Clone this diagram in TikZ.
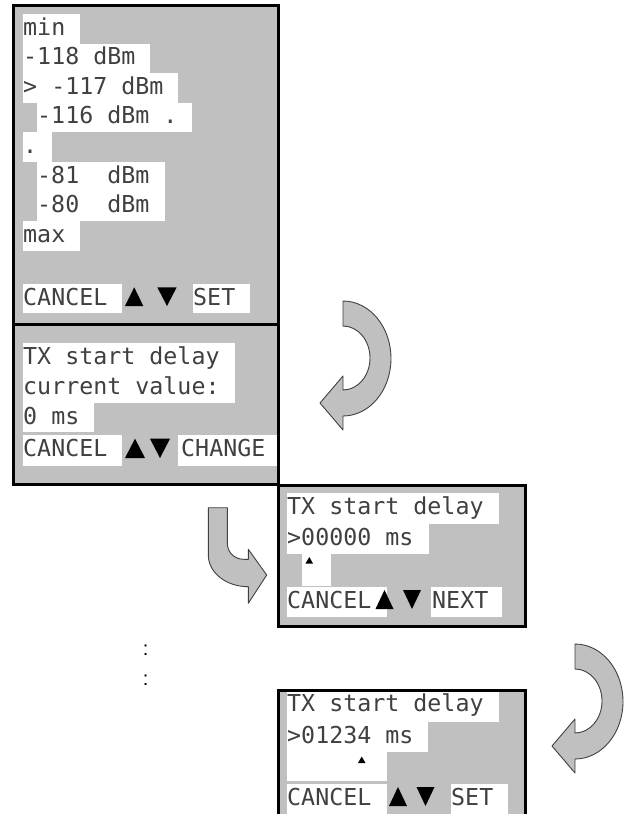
\documentclass[tikz,border=0pt]{standalone}
\usepackage{fontspec}
\newfontfamily\lcd{DejaVu Sans Mono}
\newfontfamily\sansf{Liberation Sans}
\definecolor{panelgrey}{HTML}{C0C0C0}
\tikzset{
  panelbg/.style={fill=panelgrey},
  panelframe/.style={draw=black, line width=3pt},
  hl/.style={fill=white},
  lcdtext/.style={font=\lcd\fontsize{23.3pt}{28pt}\selectfont, anchor=base west, inner sep=0pt, text=black!75},
  tri/.style={fill=black},
  bigarrow/.style={fill=panelgrey, draw=black!75, line width=0.9pt, line join=round},
  dotstext/.style={font=\sansf\fontsize{20pt}{20pt}\selectfont, anchor=base, inner sep=0pt},
  curvarrow/.pic={
    \path[bigarrow] (0,0) .. controls (26.5,0) and (48,25.7) .. (48,57.5)
      .. controls (48,89.3) and (26.5,115) .. (0,115) -- (0,129) -- (-23,102) -- (0,75) -- (0,89)
      .. controls (14.9,89) and (27,74.7) .. (27,57)
      .. controls (27,39.3) and (14.9,25) .. (0,25) -- cycle;
  }
}
\begin{document}
\begin{tikzpicture}[x=1pt,y=-1pt]
\useasboundingbox (0,0) rectangle (630,814);
\clip (0,0) rectangle (630,814);

% ---------- panel 1 ----------
\fill[panelbg] (13,5.3) rectangle (278.5,324);
\fill[hl] (23,14) rectangle (80,43.6);
\fill[hl] (23,43.6) rectangle (150,73.2);
\fill[hl] (23,73.2) rectangle (178,102.8);
\fill[hl] (37,102.8) rectangle (192,132.4);
\fill[hl] (23,132.4) rectangle (52,162);
\fill[hl] (37,162) rectangle (165,191.6);
\fill[hl] (37,191.6) rectangle (165,221.2);
\fill[hl] (23,221.2) rectangle (80,250.8);
\fill[hl] (23,284) rectangle (122,313.3);
\fill[hl] (192.7,284) rectangle (250,313.3);
\node[lcdtext] (p1a) at (23,35) {min};
\node[lcdtext] (p1b) at (23,64.6) {-118 dBm};
\node[lcdtext] (p1c) at (23,94.2) {> -117 dBm};
\node[lcdtext] (p1d) at (37,123.8) {-116 dBm .};
\node[lcdtext] (p1e) at (23,153.4) {.};
\node[lcdtext] (p1f) at (37,183) {-81~~dBm};
\node[lcdtext] (p1g) at (37,212.6) {-80~~dBm};
\node[lcdtext] (p1h) at (23,242.2) {max};
\node[lcdtext] (p1i) at (23,305) {CANCEL};
\node[lcdtext] (p1j) at (193,305) {SET};
\fill[tri] (125,306) -- (143.3,306) -- (134.2,287.3) -- cycle;
\fill[tri] (157.3,287.3) -- (176.7,287.3) -- (167,306) -- cycle;

% ---------- panel 2 ----------
\fill[panelbg] (13,324) rectangle (278.5,484);
\fill[hl] (23,343) rectangle (235,373);
\fill[hl] (23,373) rectangle (235,403);
\fill[hl] (23,403) rectangle (94.3,431.7);
\fill[hl] (23,435) rectangle (122.3,465.7);
\fill[hl] (178.3,435) rectangle (278.5,465.7);
\node[lcdtext] (p2a) at (23,364) {TX start delay};
\node[lcdtext] (p2b) at (23,394) {current value:};
\node[lcdtext] (p2c) at (23,424) {0 ms};
\node[lcdtext] (p2d) at (23,456) {CANCEL};
\node[lcdtext] (p2e) at (181,456) {CHANGE};
\fill[tri] (125,458) -- (145,458) -- (135,438.7) -- cycle;
\fill[tri] (150,438.7) -- (170,438.7) -- (160,458) -- cycle;

% ---------- panel 3 ----------
\fill[panelbg] (278.5,485) rectangle (525.5,626.7);
\fill[hl] (287,493.3) rectangle (499,524);
\fill[hl] (287,524) rectangle (428.5,554.4);
\fill[hl] (302,554.4) rectangle (331,585.5);
\fill[hl] (287,587.3) rectangle (386.7,616.5);
\fill[hl] (431,587.3) rectangle (501.7,616.5);
\node[lcdtext] (p3a) at (287,514.3) {TX start delay};
\node[lcdtext] (p3b) at (287,545) {>00000 ms};
\node[lcdtext] (p3c) at (287,608.3) {CANCEL};
\node[lcdtext] (p3d) at (432,608.3) {NEXT};
\fill[tri] (305.5,563.5) -- (313,563.5) -- (309.3,557) -- cycle;
\fill[tri] (375.5,609) -- (393.5,609) -- (384.5,590) -- cycle;
\fill[tri] (403,590) -- (421,590) -- (412,609) -- cycle;

% ---------- panel 4 ----------
\fill[panelbg] (278.5,690.5) rectangle (525.5,830);
\fill[hl] (287,692) rectangle (499,721.7);
\fill[hl] (287,721.7) rectangle (428.3,752.3);
\fill[hl] (287,752.3) rectangle (386.7,781);
\fill[hl] (287,784) rectangle (386.7,830);
\fill[hl] (451,784) rectangle (508.3,830);
\node[lcdtext] (p4a) at (287,711.7) {TX start delay};
\node[lcdtext] (p4b) at (287,743.3) {>01234 ms};
\node[lcdtext] (p4c) at (287,805) {CANCEL};
\node[lcdtext] (p4d) at (451,805) {SET};
\fill[tri] (358,763) -- (365.5,763) -- (361.7,756.5) -- cycle;
\fill[tri] (389,806) -- (407,806) -- (398,787) -- cycle;
\fill[tri] (416.5,787) -- (434.5,787) -- (425.5,806) -- cycle;

% ---------- frames ----------
\draw[panelframe] (13,5.3) rectangle (278.5,324);
\draw[panelframe] (13,324) rectangle (278.5,484);
\draw[panelframe] (278.5,485) rectangle (525.5,626.7);
\draw[panelframe] (278.5,690.5) rectangle (525.5,830);

% ---------- arrows ----------
\path (343,301) pic {curvarrow};
\path (575,644) pic {curvarrow};
\path[bigarrow] (208.3,507.7) -- (208.3,555)
  .. controls (208.3,572.5) and (226,586.7) .. (248.3,586.7)
  -- (248.3,603.3) -- (266.7,575) -- (248.3,549.3) -- (248.3,559.3) -- (244,559.3)
  .. controls (234,559.3) and (227.3,552) .. (227.3,543)
  -- (227.3,507.7) -- cycle;

% ---------- ellipsis ----------
\node[dotstext] (dots1) at (145.6,655.3) {:};
\node[dotstext] (dots2) at (145.6,685.5) {:};
\end{tikzpicture}
\end{document}
